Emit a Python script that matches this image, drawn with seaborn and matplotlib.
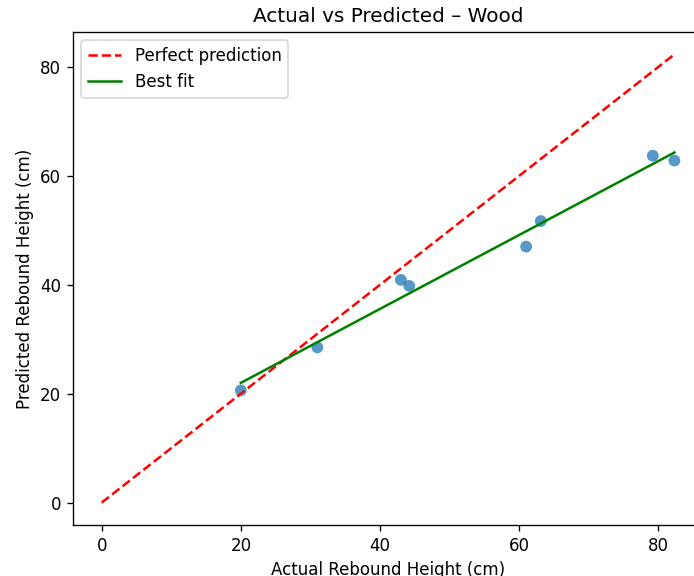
import numpy as np
import matplotlib
matplotlib.use("Agg")
import matplotlib.pyplot as plt
import seaborn as sns

# rebound heights (cm)
actual = np.array([20.0, 31.0, 43.0, 44.2, 61.0, 63.1, 79.2, 82.3])
predicted = np.array([20.6, 28.5, 40.9, 39.8, 47.0, 51.7, 63.7, 62.8])

fig = plt.figure(figsize=(694 / 120, 576 / 120), dpi=120)
ax = fig.add_axes([0.1052, 0.0885, 0.9078, 0.856])

sns.scatterplot(x=actual, y=predicted, ax=ax, s=50, alpha=0.75,
                color="tab:blue", edgecolor="none")

top = max(actual.max(), predicted.max())
ax.plot([0, top], [0, top], "r--", label="Perfect prediction")

slope, icpt = np.polyfit(actual, predicted, 1)
ax.plot(actual, slope * actual + icpt, color="green", label="Best fit")

ax.set_xlabel("Actual Rebound Height (cm)")
ax.set_ylabel("Predicted Rebound Height (cm)")
ax.set_title("Actual vs Predicted – Wood")
ax.legend(loc="upper left")

fig.savefig("out.png", dpi=120)
